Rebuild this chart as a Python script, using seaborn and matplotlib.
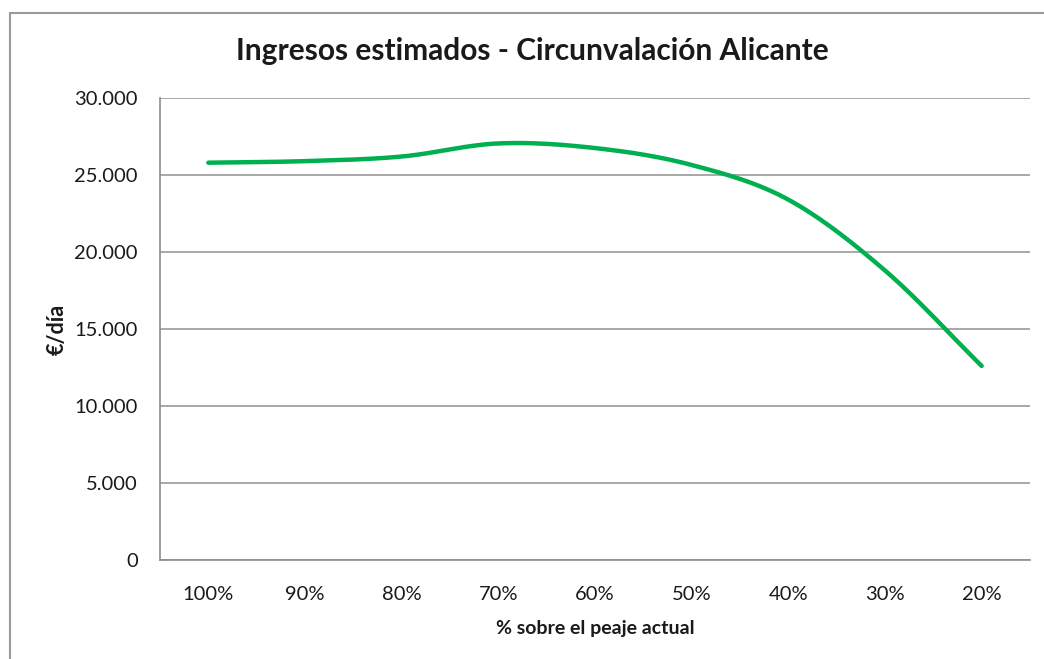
import numpy as np
import pandas as pd
import matplotlib
matplotlib.use("Agg")
import matplotlib.pyplot as plt
import seaborn as sns

# Data
categories = ["100%", "90%", "80%", "70%", "60%", "50%", "40%", "30%", "20%"]
ingresos = [25800, 25900, 26200, 27050, 26750, 25650, 23400, 18800, 12600]
y_ticks = [0, 5000, 10000, 15000, 20000, 25000, 30000]
y_labels = ["0", "5.000", "10.000", "15.000", "20.000", "25.000", "30.000"]

sns.set_style("white")
plt.rcParams["font.family"] = ["Lato", "DejaVu Sans"]


def smooth(xs, ys, n=30):
    # Catmull-Rom curve through the points, like Excel's smoothed line
    xs = np.asarray(xs, float)
    ys = np.asarray(ys, float)
    px = np.concatenate([[2 * xs[0] - xs[1]], xs, [2 * xs[-1] - xs[-2]]])
    py = np.concatenate([[2 * ys[0] - ys[1]], ys, [2 * ys[-1] - ys[-2]]])
    out_x, out_y = [], []
    t = np.linspace(0, 1, n, endpoint=False)
    for i in range(1, len(px) - 2):
        for p, out in ((px, out_x), (py, out_y)):
            p0, p1, p2, p3 = p[i - 1], p[i], p[i + 1], p[i + 2]
            out.extend(0.5 * ((2 * p1) + (-p0 + p2) * t
                              + (2 * p0 - 5 * p1 + 4 * p2 - p3) * t ** 2
                              + (-p0 + 3 * p1 - 3 * p2 + p3) * t ** 3))
    out_x.append(xs[-1])
    out_y.append(ys[-1])
    return np.array(out_x), np.array(out_y)


sx, sy = smooth(range(len(categories)), ingresos)
df = pd.DataFrame({"x": sx, "y": sy})

fig = plt.figure(figsize=(10.44, 6.59), dpi=100)
ax = fig.add_axes([160 / 1044, 1 - 560 / 659, 870 / 1044, 462 / 659])

sns.lineplot(data=df, x="x", y="y", ax=ax, color="#00b050", linewidth=3.2,
             sort=False, solid_capstyle="round")

ax.set_xlim(-0.5, len(categories) - 0.5)
ax.set_ylim(0, 30000)
ax.set_yticks(y_ticks)
ax.set_yticklabels(y_labels)
ax.set_xticks(range(len(categories)))
ax.set_xticklabels(categories)
ax.set_xticks(np.arange(-0.5, len(categories)), minor=True)
ax.tick_params(axis="x", which="major", length=0, pad=19, labelsize=14.5, colors="#1a1a1a")
ax.tick_params(axis="x", which="minor", length=6.5, width=1, color="#8c8c8c")
ax.tick_params(axis="y", length=6.5, width=1, color="#8c8c8c", pad=9.5,
               labelsize=14.5, labelcolor="#1a1a1a")

ax.grid(axis="y", color="#9a9a9a", linewidth=1.2)
ax.set_axisbelow(True)
for side in ["top", "right"]:
    ax.spines[side].set_visible(False)
for side in ["left", "bottom"]:
    ax.spines[side].set_color("#8c8c8c")
    ax.spines[side].set_linewidth(1.2)

ax.set_xlabel("% sobre el peaje actual", fontsize=14, fontweight="bold",
              color="#1a1a1a", labelpad=12)
ax.set_ylabel("€/día", fontsize=15.5, fontweight="bold", color="#1a1a1a", labelpad=5)

fig.text(532 / 1044, 1 - 51 / 659, "Ingresos estimados - Circunvalación Alicante",
         ha="center", va="center", fontsize=21.5, fontweight="bold", color="#1a1a1a")

# outer chart frame
frame = plt.Rectangle((10 / 1044, -0.1), 1.2, 1 - 13 / 659 + 0.1, transform=fig.transFigure,
                      fill=False, edgecolor="#9a9a9a", linewidth=1.5)
fig.patches.append(frame)

fig.savefig("out.png", dpi=100)
